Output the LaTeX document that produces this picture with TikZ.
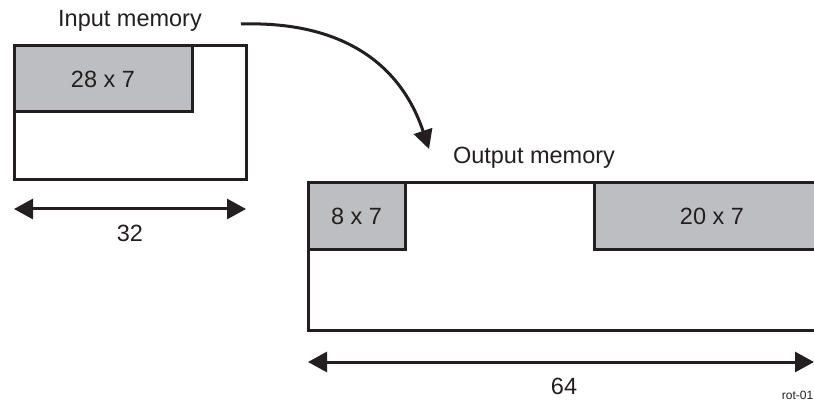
\documentclass[tikz,border=0pt]{standalone}
\usepackage{fontspec}
\setmainfont{Liberation Sans}
\usetikzlibrary{arrows.meta}
\definecolor{ink}{HTML}{231F20}
\definecolor{cellgray}{HTML}{BCBEC1}
\begin{document}
\begin{tikzpicture}[x=1pt,y=1pt,
  lbl/.style={text=ink,font=\fontsize{23.5}{27}\selectfont,inner sep=0pt},
  membox/.style={draw=ink,line width=3pt,fill=white,inner sep=0pt},
  cellbox/.style={draw=ink,line width=3pt,fill=cellgray,inner sep=0pt,text=ink,font=\fontsize{23.5}{27}\selectfont},
  dimarrow/.style={draw=ink,line width=3pt,{Triangle[length=19pt,width=20pt]}-{Triangle[length=19pt,width=20pt]}},
  flow/.style={draw=ink,line width=3pt,-{Triangle[length=19pt,width=19pt]}}]
\useasboundingbox (0,0) rectangle (814,402);
\clip (0,0) rectangle (814,402);
\fill[white] (0,0) rectangle (814,402);
% input memory
\node[lbl] (inlbl) at (130,381) {Input memory};
\node[membox,minimum width=232,minimum height=134] (inmem) at (130,289) {};
\node[cellbox,minimum width=178,minimum height=66] (c28) at (103,323) {28 x 7};
\coordinate (a32l) at (14,193);
\coordinate (a32r) at (246,193);
\draw[dimarrow] (a32l) -- (a32r);
\node[lbl] (l32) at (130,169) {32};
% output memory
\node[lbl] (outlbl) at (534,244) {Output memory};
\node[membox,minimum width=532,minimum height=147] (outmem) at (574,145.5) {};
\node[cellbox,minimum width=97,minimum height=67] (c8) at (356.5,185.5) {8 x 7};
\node[cellbox,minimum width=236,minimum height=67] (c20) at (712,185.5) {20 x 7};
\coordinate (a64l) at (308,40);
\coordinate (a64r) at (814,40);
\draw[dimarrow] (a64l) -- (a64r);
\node[lbl] (l64) at (564,16) {64};
% flow arrow
\coordinate (fs) at (241,378);
\coordinate (fe) at (429,253);
\draw[flow] (fs) .. controls (340,381) and (400,340) .. (fe);
\node[text=ink,font=\fontsize{12}{14}\selectfont,anchor=east,inner sep=0pt] (tag) at (813.5,7) {rot-01};
\end{tikzpicture}
\end{document}
